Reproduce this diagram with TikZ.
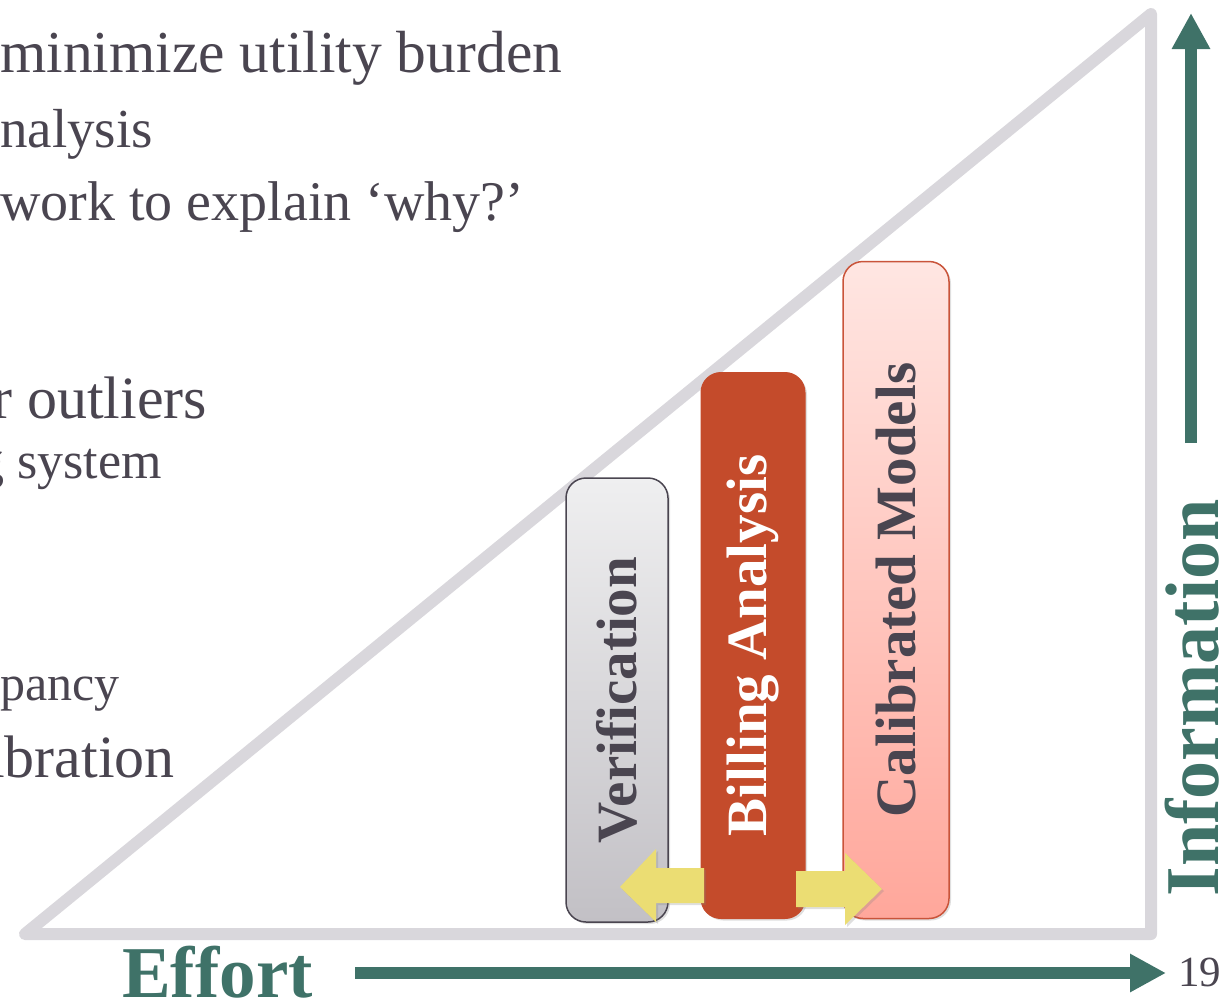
\documentclass[tikz,border=0pt]{standalone}
\usepackage{fontspec}
\setmainfont{Liberation Serif}
\usetikzlibrary{arrows.meta,shadows}
\definecolor{txt}{HTML}{4A4550}
\definecolor{tri}{HTML}{D9D7DC}
\definecolor{grn}{HTML}{3F7268}
\definecolor{rust}{HTML}{C44B2B}
\definecolor{yel}{HTML}{EBDD73}
\definecolor{calborder}{HTML}{C9543A}
\definecolor{vertop}{HTML}{EFEFF0}
\definecolor{verbot}{HTML}{C2C0C5}
\definecolor{caltop}{HTML}{FFE6E2}
\definecolor{calbot}{HTML}{FFA79B}
\tikzset{
  bodytext/.style={anchor=base west, inner sep=0pt, text=txt},
  barbox/.style={rounded corners=20pt, inner sep=0pt, rotate=90,
    font=\bfseries\fontsize{57}{60}\selectfont,
    drop shadow={opacity=0.25, shadow xshift=2pt, shadow yshift=-2pt}},
  yelarrow/.style={fill=yel, draw=none,
    drop shadow={opacity=0.25, shadow xshift=2pt, shadow yshift=-2pt}},
  grnarrow/.style={draw=grn, line width=12pt, -{Triangle[width=36pt,length=36pt]}},
  triline/.style={draw=tri, line width=12pt, line join=round, line cap=round},
}
\begin{document}
\begin{tikzpicture}[x=1pt,y=-1pt]
\useasboundingbox (0,0) rectangle (1227,1002);
\clip (0,0) rectangle (1227,1002);

% body text (cut at the left edge, as in the reference)
\node[bodytext, font=\fontsize{59.5}{60}\selectfont] (l1) at (0,72) {minimize utility burden};
\node[bodytext, font=\fontsize{55}{60}\selectfont] (l2) at (0,147) {nalysis};
\node[bodytext, font=\fontsize{56}{60}\selectfont] (l3) at (0,220) {work to explain ‘why?’};
\node[bodytext, font=\fontsize{60}{60}\selectfont] (l4) at (-8,418) {r outliers};
\node[bodytext, font=\fontsize{52}{60}\selectfont] (l5) at (-22,478) {g system};
\node[bodytext, font=\fontsize{50}{60}\selectfont] (l6) at (0,700) {pancy};
\node[bodytext, font=\fontsize{60}{60}\selectfont] (l7) at (-12,777) {ibration};

% triangle
\coordinate (tA) at (25,934);
\coordinate (tB) at (1151,934);
\coordinate (tC) at (1151,14);
\draw[triline] (tA) -- (tB) -- (tC) -- cycle;

% bars
\node[barbox, draw=txt, line width=1.5pt, top color=vertop, bottom color=verbot,
  minimum width=444pt, minimum height=102pt, text=txt] (ver) at (617,700) {Verification};
\node[barbox, draw=rust, fill=rust, line width=1pt,
  minimum width=546pt, minimum height=104pt, text=white] (bil) at (753,645.5) {Billing Analysis};
\node[barbox, draw=calborder, line width=1.5pt, top color=caltop, bottom color=calbot,
  minimum width=657pt, minimum height=106pt, text=txt] (cal) at (896,590) {Calibrated Models};

% yellow arrows
\path[yelarrow] (620,887) -- (656,849) -- (656,868) -- (704,868) -- (704,903) -- (656,903) -- (656,922) -- cycle;
\path[yelarrow] (882,889) -- (845,853) -- (845,871) -- (796,871) -- (796,907) -- (845,907) -- (845,925) -- cycle;

% axes arrows
\coordinate (h0) at (355,973);
\coordinate (h1) at (1166,973);
\draw[grnarrow] (h0) -- (h1);
\coordinate (v0) at (1191,443);
\coordinate (v1) at (1191,13);
\draw[grnarrow] (v0) -- (v1);

% axis labels
\node[anchor=base west, inner sep=0pt, text=grn, font=\bfseries\fontsize{73}{73}\selectfont] (eff) at (122,997) {Effort};
\node[anchor=base, inner sep=0pt, rotate=90, text=grn, font=\bfseries\fontsize{76}{76}\selectfont] (inf) at (1218,698) {Information};
\node[anchor=base west, inner sep=0pt, text=txt, font=\fontsize{43}{43}\selectfont] (num) at (1178,986) {19};
\end{tikzpicture}
\end{document}
